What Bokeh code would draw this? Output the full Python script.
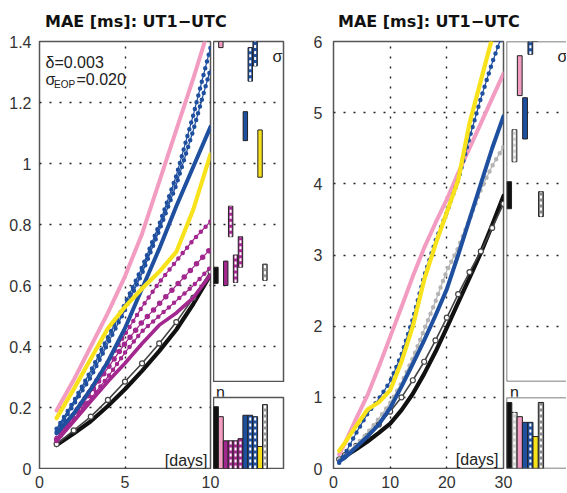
from bokeh.plotting import figure
from bokeh.layouts import row, column
from bokeh.models import Div, Label, Range1d, FixedTicker, NumeralTickFormatter, Grid, Span
from bokeh.embed import file_html
from bokeh.resources import INLINE

# ---------------- data: left panel (forecast horizon 1..10 days) ----------------
days_L = [1, 2, 3, 4, 5, 6, 7, 8, 9, 10]
L_black   = [0.077, 0.115, 0.155, 0.205, 0.26, 0.32, 0.385, 0.455, 0.54, 0.635]
L_gray    = [0.08, 0.125, 0.17, 0.225, 0.285, 0.345, 0.41, 0.48, 0.56, 0.645]
L_mag     = [0.09, 0.155, 0.22, 0.285, 0.345, 0.41, 0.47, 0.51, 0.56, 0.635]
L_mag_d1  = [0.10, 0.18, 0.26, 0.35, 0.44, 0.53, 0.61, 0.68, 0.75, 0.81]
L_mag_d2  = [0.09, 0.16, 0.23, 0.30, 0.38, 0.45, 0.50, 0.55, 0.60, 0.66]
L_mag_d3  = [0.095, 0.17, 0.25, 0.33, 0.41, 0.48, 0.54, 0.60, 0.66, 0.72]
L_blue    = [0.115, 0.18, 0.26, 0.35, 0.46, 0.59, 0.72, 0.86, 0.99, 1.12]
L_blue_d1 = [0.12, 0.21, 0.30, 0.41, 0.52, 0.64, 0.78, 0.93, 1.11, 1.31]
L_blue_d2 = [0.13, 0.22, 0.32, 0.43, 0.54, 0.66, 0.80, 0.96, 1.16, 1.38]
L_yellow  = [0.165, 0.26, 0.36, 0.46, 0.53, 0.59, 0.645, 0.71, 0.85, 1.03]
L_pink    = [0.19, 0.29, 0.40, 0.51, 0.63, 0.77, 0.94, 1.11, 1.28, 1.46]

# sigma boxes and n bars (order: black, pink, mag, mag_d1, mag_d2, mag_d3, blue, blue_d1, blue_d2, yellow, gray)
sig_lo_L = [0.607, 1.38, 0.60, 0.76, 0.61, 0.66, 1.075, 1.27, 1.32, 0.955, 0.617]
sig_hi_L = [0.66, 1.55, 0.68, 0.86, 0.70, 0.76, 1.17, 1.38, 1.45, 1.11, 0.67]
n_L      = [87, 73, 39, 39, 39, 42, 75, 75, 73, 31, 90]

# ---------------- data: right panel (forecast horizon 1..30 days) ----------------
days_R = [1, 2, 4, 6, 8, 10, 12, 14, 16, 18, 20, 22, 24, 26, 28, 30]
R_black  = [0.12, 0.17, 0.27, 0.38, 0.50, 0.63, 0.82, 1.05, 1.33, 1.64, 1.98, 2.33, 2.68, 3.03, 3.42, 3.83]
R_dgray  = [0.13, 0.19, 0.32, 0.46, 0.62, 0.80, 1.00, 1.24, 1.50, 1.80, 2.12, 2.45, 2.76, 3.05, 3.38, 3.72]
R_lgray  = [0.12, 0.18, 0.33, 0.50, 0.70, 0.92, 1.20, 1.55, 1.95, 2.35, 2.78, 3.10, 3.50, 3.92, 4.25, 4.52]
R_blue   = [0.10, 0.15, 0.30, 0.45, 0.62, 0.85, 1.15, 1.47, 1.80, 2.15, 2.52, 3.00, 3.50, 4.00, 4.50, 4.95]
R_blue_d = [0.08, 0.20, 0.50, 0.77, 0.98, 1.22, 1.60, 2.10, 2.70, 3.20, 3.60, 4.05, 4.65, 5.20, 5.70, 6.15]
R_yellow = [0.25, 0.36, 0.60, 0.83, 0.93, 1.10, 1.50, 2.00, 2.65, 3.15, 3.60, 4.05, 4.85, 5.45, 6.05, 6.60]
R_pink   = [0.20, 0.35, 0.70, 1.03, 1.43, 1.85, 2.27, 2.70, 3.10, 3.45, 3.78, 4.15, 4.50, 4.85, 5.20, 5.55]

# order: black, lgray, pink, blue, blue_d, yellow, dgray
sig_lo_R = [3.65, 4.31, 5.24, 4.63, 5.82, 6.2, 3.54]
sig_hi_R = [4.03, 4.76, 5.80, 5.21, 6.5, 7.0, 3.89]
n_R      = [93, 79, 73, 65, 65, 45, 93]

# ticks / texts
xticks_L = [0, 5, 10]
yticks_L = [0, 0.2, 0.4, 0.6, 0.8, 1.0, 1.2, 1.4]
xticks_R = [0, 10, 20, 30]
yticks_R = [0, 1, 2, 3, 4, 5, 6]
title_text = "MAE [ms]: UT1\u2212UTC"
delta_text = "\u03b4=0.003"
sigma_eop_value = "=0.020"

# ---------------- styling ----------------
FONT = "Liberation Sans"
BLACK = "#111111"
PINK = "#f29cc2"
MAG = "#a2278e"
BLUE = "#1f4f9f"
YELLOW = "#f8e21c"
DGRAY = "#444444"
LGRAY = "#b4b4b4"
OUTLINE = "#555555"
GRID_DASH = "2 8"

TITLE_H = 32
TOP = 9
FH = 427            # main frame height
FH_SIG = 340        # sigma frame height
N_LABEL_H = 14
FH_N = 71           # n frame height
H_MAIN = TOP + FH + 1
STRIP_H = 23
STRIP_BOT = 21


def base(**kw):
    f = figure(output_backend="svg", toolbar_location=None, min_border=0,
               background_fill_color="white", border_fill_color="white", **kw)
    for g in f.grid:
        g.visible = False
    return f


def add_grid(f, dim, ticks):
    f.add_layout(Grid(dimension=dim, ticker=FixedTicker(ticks=ticks), grid_line_color="#222222",
                      grid_line_dash=GRID_DASH, grid_line_width=1.4))


def style_axis(ax, standoff):
    ax.axis_line_color = None
    ax.major_tick_line_color = None
    ax.minor_tick_line_color = None
    ax.major_tick_out = 0
    ax.major_tick_in = 0
    ax.major_label_text_font = FONT
    ax.major_label_text_font_size = "16px"
    ax.major_label_text_color = "#333333"
    ax.major_label_standoff = standoff


def solid(p, x, y, color, w=4.0):
    p.line(x, y, line_color=color, line_width=w, line_join="round", line_cap="round")


def dotted(p, x, y, color, dot=4.5, gap=7):
    p.line(x, y, line_color=color, line_width=1.2)
    p.line(x, y, line_color=color, line_width=dot, line_dash="0 %d" % gap, line_cap="round")


def circles(p, x, y, color):
    p.line(x, y, line_color=color, line_width=1.6)
    p.scatter(x, y, marker="circle", size=5, fill_color="white", line_color=color, line_width=1.2)


def main_fig(x_end, y_end, xticks, yticks, width, mbl, mbr):
    p = base(width=width, height=H_MAIN, x_range=Range1d(0, x_end), y_range=Range1d(0, y_end),
             x_axis_location=None, y_axis_location=None,
             min_border_left=mbl, min_border_right=mbr, min_border_top=TOP, min_border_bottom=1)
    p.outline_line_color = OUTLINE
    p.outline_line_width = 1.5
    add_grid(p, 0, xticks[1:])
    add_grid(p, 1, yticks[1:-1])
    return p


def y_strip(width, y_end, yticks, fmt, standoff):
    # y tick labels of the main panel, same vertical scale, taller than the main figure
    f = base(width=width, height=H_MAIN + STRIP_H, x_range=Range1d(0, 1), y_range=Range1d(0, y_end),
             x_axis_location=None, min_border_left=width - 1, min_border_right=0,
             min_border_top=TOP, min_border_bottom=1 + STRIP_H)
    f.outline_line_color = None
    f.yaxis.ticker = FixedTicker(ticks=yticks)
    f.yaxis.formatter = NumeralTickFormatter(format=fmt)
    style_axis(f.yaxis[0], standoff)
    return f


def x_strip(width, mbl, px, xticks):
    # x tick labels of the main panel, same horizontal scale, wider than the main figure
    f = base(width=width, height=STRIP_H, x_range=Range1d(0, (width - mbl) / px), y_range=Range1d(0, 1),
             y_axis_location=None, min_border_left=mbl, min_border_right=0,
             min_border_top=0, min_border_bottom=STRIP_BOT)
    f.outline_line_color = None
    f.xaxis.ticker = FixedTicker(ticks=xticks)
    style_axis(f.xaxis[0], 4)
    return f


def frame_edges(f, x0, y0, y1):
    # outline without the right edge (the panel is cut at the picture border)
    f.outline_line_color = None
    for loc, dim in ((x0, "height"), (y0, "width"), (y1, "width")):
        f.add_layout(Span(location=loc, dimension=dim, line_color=OUTLINE, line_width=1.5))


def sigma_fig(x_end, y_start, y_end, yticks, width, mbl, mbr, open_right=False):
    s = base(width=width, height=TOP + FH_SIG + 1, x_range=Range1d(0.5, x_end),
             y_range=Range1d(y_start, y_end), x_axis_location=None, y_axis_location=None,
             min_border_left=mbl, min_border_right=mbr, min_border_top=TOP, min_border_bottom=1)
    s.outline_line_color = OUTLINE
    s.outline_line_width = 1.5
    add_grid(s, 1, yticks)
    if open_right:
        frame_edges(s, 0.5, y_start, y_end)
    return s


def n_fig(x_end, width, mbl, mbr, open_right=False):
    n = base(width=width, height=FH_N + 2, x_range=Range1d(0.5, x_end), y_range=Range1d(0, 100),
             x_axis_location=None, y_axis_location=None,
             min_border_left=mbl, min_border_right=mbr, min_border_top=1, min_border_bottom=1)
    n.outline_line_color = OUTLINE
    n.outline_line_width = 1.5
    if open_right:
        frame_edges(n, 0.5, 0, 100)
    return n


def n_label(width, left):
    return Div(text='<div style="margin-left:%dpx;margin-top:1px;line-height:14px">n</div>' % left,
               width=width, height=N_LABEL_H, margin=(0, 0, 0, 0),
               styles={"font-family": FONT, "font-size": "16px", "color": "#222"})


def boxes(s, n, lo, hi, counts, fills, checked):
    idx = list(range(1, len(lo) + 1))
    for i in range(len(lo)):
        kw = dict(fill_color=fills[i], line_color="#222222", line_width=1)
        s.vbar(x=[idx[i]], width=0.9, bottom=[lo[i]], top=[hi[i]], **kw)
        n.vbar(x=[idx[i]], width=1.0, bottom=[0], top=[counts[i]], **kw)
        if checked[i]:
            ck = dict(line_color="white", line_width=2, line_dash="3 3")
            s.segment(x0=[idx[i]], y0=[lo[i]], x1=[idx[i]], y1=[hi[i]], **ck)
            n.segment(x0=[idx[i]], y0=[0], x1=[idx[i]], y1=[counts[i]], **ck)


def lab(p, text, x, y, size="16px", align="left", baseline="alphabetic", font=FONT, color="#222222"):
    p.add_layout(Label(x=x, y=y, text=text, text_font=font, text_font_size=size, text_align=align,
                       text_baseline=baseline, text_color=color))


def title_div(width, left):
    return Div(text='<div style="margin-left:%dpx;margin-top:11px;white-space:nowrap">%s</div>' % (left, title_text),
               width=width, height=TITLE_H, margin=(0, 0, 0, 0),
               styles={"font-family": "DejaVu Sans", "font-weight": "bold", "font-size": "16px", "color": "#111"})


# ================= LEFT PANEL =================
WY_L = 33
W_L, MBL_L, MBR_L = 180, 6, 3
W_SL, MBR_SL = 77, 7
FW_L = W_L - MBL_L - MBR_L
FW_SL = W_SL - MBR_SL
pL = main_fig(10, 1.4, xticks_L, yticks_L, W_L, MBL_L, MBR_L)
pxL = FW_L / 10.0
pyL = FH / 1.4
solid(pL, days_L, L_black, BLACK, 4.2)
circles(pL, days_L, L_gray, DGRAY)
solid(pL, days_L, L_mag, MAG, 3.6)
dotted(pL, days_L, L_mag_d2, MAG, 4.5, 7)
dotted(pL, days_L, L_mag_d3, MAG, 5.5, 9)
dotted(pL, days_L, L_mag_d1, MAG, 4.5, 7)
solid(pL, days_L, L_blue, BLUE, 4.0)
dotted(pL, days_L, L_blue_d1, BLUE, 4.5, 7)
dotted(pL, days_L, L_blue_d2, BLUE, 4.5, 7)
solid(pL, days_L, L_pink, PINK, 4.0)
solid(pL, days_L, L_yellow, YELLOW, 4.2)
lab(pL, delta_text, 6 / pxL, 1.4 - 21 / pyL)
lab(pL, "\u03c3", 6 / pxL, 1.4 - 38 / pyL)
lab(pL, "EOP", 14.5 / pxL, 1.4 - 43 / pyL, size="10px")
lab(pL, sigma_eop_value, 37 / pxL, 1.4 - 38 / pyL)
lab(pL, "[days]", 10 - 3 / pxL, 8 / pyL, align="right")

pxSL = 4.9
xend_SL = 0.5 + FW_SL / pxSL
sL = sigma_fig(xend_SL, 1.4 - FH_SIG / pyL, 1.4, yticks_L[1:-1], W_SL, 0, MBR_SL)
nL = n_fig(xend_SL, W_SL, 0, MBR_SL)
fills_L = [BLACK, PINK, MAG, MAG, MAG, MAG, BLUE, BLUE, BLUE, YELLOW, "#9a9a9a"]
check_L = [False, False, False, True, True, True, False, True, True, False, True]
boxes(sL, nL, sig_lo_L, sig_hi_L, n_L, fills_L, check_L)
lab(sL, "\u03c3", 0.5 + 59 / pxSL, 1.4 - 15 / pyL)
yL = y_strip(WY_L, 1.4, yticks_L, "0.[0]", 1)
xL = x_strip(W_L + W_SL, MBL_L, pxL, xticks_L)

# ================= RIGHT PANEL =================
WY_R = 34
W_R, MBL_R, MBR_R = 181, 9, 2
W_SR, MBL_SR = 61, 1
FW_R = W_R - MBL_R - MBR_R
FW_SR = W_SR - MBL_SR
pR = main_fig(30, 6, xticks_R, yticks_R, W_R, MBL_R, MBR_R)
pxR = FW_R / 30.0
pyR = FH / 6.0
solid(pR, days_R, R_black, BLACK, 4.2)
circles(pR, days_R, R_dgray, DGRAY)
dotted(pR, days_R, R_lgray, LGRAY, 4.5, 7)
solid(pR, days_R, R_blue, BLUE, 4.0)
solid(pR, days_R, R_pink, PINK, 4.0)
dotted(pR, days_R, R_blue_d, BLUE, 4.5, 7)
solid(pR, days_R, R_yellow, YELLOW, 4.2)
lab(pR, "[days]", 30 - 5 / pxR, 9 / pyR, align="right")

pxSR = 5.3
xend_SR = 0.5 + FW_SR / pxSR
sR = sigma_fig(xend_SR, 6 - FH_SIG / pyR, 6, yticks_R[1:-1], W_SR, MBL_SR, 0, open_right=True)
nR = n_fig(xend_SR, W_SR, MBL_SR, 0, open_right=True)
fills_R = [BLACK, "#cfcfcf", PINK, BLUE, BLUE, YELLOW, "#8a8a8a"]
check_R = [False, True, False, False, True, False, True]
boxes(sR, nR, sig_lo_R, sig_hi_R, n_R, fills_R, check_R)
lab(sR, "\u03c3", 0.5 + 51 / pxSR, 6 - 15 / pyR)
yR = y_strip(WY_R, 6, yticks_R, "0", 1)
xR = x_strip(W_R + W_SR, MBL_R, pxR, xticks_R)

left_panel = column(title_div(WY_L + W_L + W_SL, 45),
                    row(yL, column(row(pL, column(sL, n_label(W_SL, 3), nL)), xL)))
right_panel = column(title_div(WY_R + W_R + W_SR, 48),
                     row(yR, column(row(pR, column(sR, n_label(W_SR, 5), nR)), xR)))
layout = row(left_panel, right_panel)

open("out.html", "w").write(file_html(layout, INLINE))
